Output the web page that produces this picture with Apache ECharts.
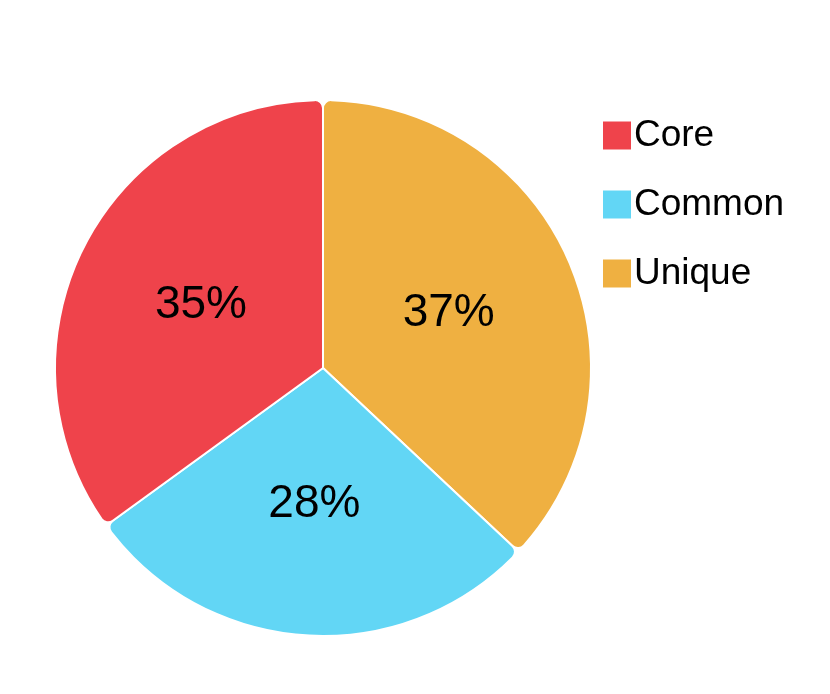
<!DOCTYPE html>
<html><head><meta charset="utf-8">
<script src="https://cdn.jsdelivr.net/npm/echarts@6/dist/echarts.min.js"></script>
<style>html,body{margin:0;padding:0;background:#fff}#c{width:830px;height:694px}</style>
</head><body><div id="c"></div>
<script>
const categories = ['Unique', 'Common', 'Core'];
const values = [37, 28, 35];
const legendOrder = ['Core', 'Common', 'Unique'];
const colors = {Unique: '#EFB041', Common: '#62D6F5', Core: '#EF434B'};
const chart = echarts.init(document.getElementById('c'));
chart.setOption({
  animation: false,
  legend: {
    data: legendOrder, orient: 'vertical', left: 596, top: 112,
    itemWidth: 30, itemHeight: 30, itemGap: 32, icon: 'rect',
    textStyle: {fontFamily: 'Liberation Sans', fontSize: 37, color: '#000', padding: [0,0,0,-3]}
  },
  series: [{
    type: 'pie', center: [323, 368], radius: [0, 268], startAngle: 90, clockwise: true,
    itemStyle: {borderColor: '#fff', borderWidth: 2, borderRadius: 8},
    label: {position: 'inner', formatter: '{c}%', fontFamily: 'Liberation Sans', fontSize: 46, color: '#000'},
    labelLine: {show: false},
    data: categories.map((c, i) => ({name: c, value: values[i], itemStyle: {color: colors[c]}}))
  }]
});
</script></body></html>
